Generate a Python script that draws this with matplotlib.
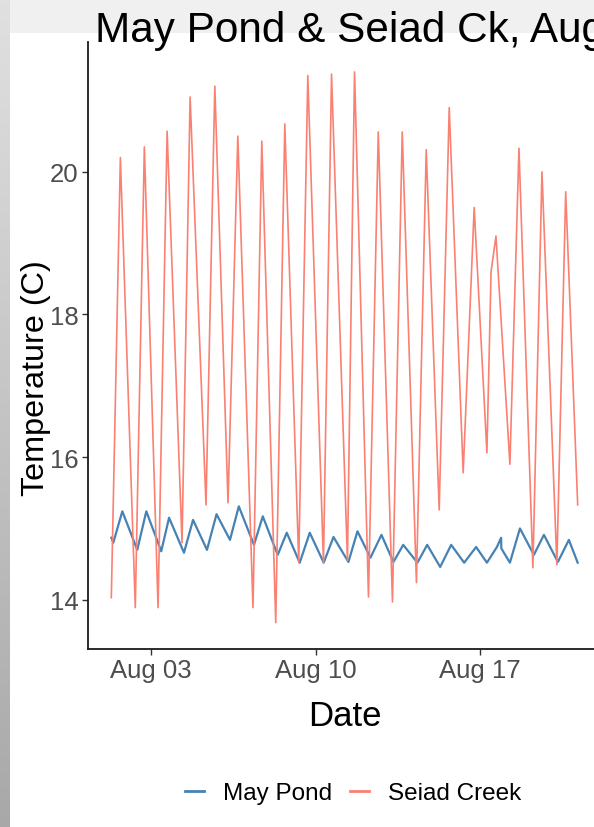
import matplotlib

matplotlib.use("Agg")
import matplotlib.dates as mdates
import matplotlib.pyplot as plt
import numpy as np
import pandas as pd

# --- values (daily troughs / peaks) --------------------------------------
seiad_time = [
    "08-01 07:15", "08-01 16:30", "08-02 07:45", "08-02 17:00",
    "08-03 07:00", "08-03 16:15", "08-04 07:30", "08-04 15:45",
    "08-05 08:00", "08-05 17:00", "08-06 06:30", "08-06 16:30",
    "08-07 08:00", "08-07 17:00", "08-08 07:15", "08-08 16:30",
    "08-09 06:45", "08-09 16:00", "08-10 08:00", "08-10 16:15",
    "08-11 08:30", "08-11 15:45", "08-12 06:00", "08-12 16:00",
    "08-13 06:30", "08-13 16:30", "08-14 07:00", "08-14 17:00",
    "08-15 06:15", "08-15 16:30", "08-16 06:45", "08-16 18:00",
    "08-17 07:00", "08-17 11:15", "08-17 16:15", "08-18 06:30",
    "08-18 15:45", "08-19 06:00", "08-19 15:15", "08-20 06:30",
    "08-20 15:30", "08-21 03:45",
]
seiad_temp = [
    14.03, 20.20, 13.89, 20.35,
    13.89, 20.57, 14.80, 21.05,
    15.33, 21.20, 15.36, 20.50,
    13.89, 20.43, 13.68, 20.67,
    14.52, 21.35, 14.52, 21.37,
    14.55, 21.40, 14.04, 20.56,
    13.97, 20.56, 14.24, 20.31,
    15.26, 20.90, 15.78, 19.50,
    16.06, 18.60, 19.10, 15.90,
    20.33, 14.45, 20.00, 14.49,
    19.72, 15.33,
]

pond_time = [
    "08-01 07:15", "08-01 09:15", "08-01 18:30", "08-02 09:45",
    "08-02 19:00", "08-03 10:15", "08-03 18:15", "08-04 09:30",
    "08-04 18:45", "08-05 09:00", "08-05 18:45", "08-06 08:30",
    "08-06 17:30", "08-07 09:00", "08-07 18:00", "08-08 09:15",
    "08-08 18:30", "08-09 07:45", "08-09 18:00", "08-10 08:15",
    "08-10 18:15", "08-11 09:30", "08-11 18:45", "08-12 08:00",
    "08-12 19:15", "08-13 07:30", "08-13 17:30", "08-14 08:00",
    "08-14 18:00", "08-15 07:15", "08-15 18:30", "08-16 07:45",
    "08-16 20:00", "08-17 07:00", "08-17 17:15", "08-17 21:30",
    "08-17 21:45", "08-18 06:30", "08-18 16:45", "08-19 07:00",
    "08-19 17:15", "08-20 07:30", "08-20 18:45", "08-21 03:45",
]
pond_temp = [
    14.87, 14.80, 15.24, 14.70,
    15.24, 14.68, 15.15, 14.66,
    15.12, 14.70, 15.20, 14.84,
    15.31, 14.77, 15.17, 14.63,
    14.94, 14.52, 14.94, 14.52,
    14.88, 14.53, 14.96, 14.59,
    14.91, 14.53, 14.77, 14.52,
    14.77, 14.46, 14.77, 14.52,
    14.74, 14.52, 14.74, 14.87,
    14.72, 14.52, 15.00, 14.63,
    14.91, 14.53, 14.84, 14.52,
]

TITLE = "May Pond & Seiad Ck, Aug"
SERIES = ["May Pond", "Seiad Creek"]
TICK_DAYS = [3, 10, 17]
Y_TICKS = [14, 16, 18, 20]

INK = "#000000"
INK_2 = "#4D4D4D"
COLORS = {"May Pond": "steelblue", "Seiad Creek": "salmon"}
SANS = ["Liberation Sans", "DejaVu Sans"]

W, H = 594, 828


def stamp(values):
    return pd.to_datetime(["2019-" + v for v in values])


fig = plt.figure(figsize=(W / 100, H / 100), dpi=100)

# slide background: grey shadow top and left, white card behind the plot
bg = fig.add_axes([0, 0, 1, 1])
bg.set_axis_off()
img = np.ones((H, W, 3))
img[:34, :, :] = 0.945
shade = np.linspace(0.88, 0.66, H)[:, None]
img[:, :10, :] = np.repeat(shade, 10, axis=1)[:, :, None]
bg.imshow(img, extent=(0, 1, 0, 1), aspect="auto", interpolation="bilinear")
bg.set_xlim(0, 1)
bg.set_ylim(0, 1)

ax = fig.add_axes([88 / W, (H - 650) / H, 513 / W, 607 / H])
ax.set_facecolor("white")

data = {
    "May Pond": (stamp(pond_time), pond_temp),
    "Seiad Creek": (stamp(seiad_time), seiad_temp),
}
for name in SERIES:
    t, y = data[name]
    ax.plot(t, y, color=COLORS[name], lw=1.6 if name == "May Pond" else 1.2,
            label=name)

ax.margins(x=0.05)
ax.set_ylim(13.31, 21.82)
ax.xaxis.set_major_locator(mdates.DayLocator(bymonthday=TICK_DAYS))
ax.xaxis.set_major_formatter(mdates.DateFormatter("%b %d"))
ax.set_yticks(Y_TICKS)

for side in ("top", "right"):
    ax.spines[side].set_visible(False)
for side in ("left", "bottom"):
    ax.spines[side].set_color("#1a1a1a")
    ax.spines[side].set_linewidth(1.3)

ax.tick_params(length=4.3, width=1.0, color="#333333", pad=2.5)
for lab in ax.get_xticklabels() + ax.get_yticklabels():
    lab.set_family(SANS)
    lab.set_fontsize(18.5)
    lab.set_color(INK_2)

ax.set_xlabel("Date", family=SANS, fontsize=25, color=INK)
ax.xaxis.set_label_coords(0.5, -0.083)
ax.set_ylabel("Temperature (C)", fontsize=23.3, color=INK, family=SANS)
ax.yaxis.set_label_coords(-0.073, 0.448)

handles, labels = ax.get_legend_handles_labels()
leg = fig.legend(handles, labels, loc="center", ncol=2, frameon=False,
                 bbox_to_anchor=(353 / W, 1 - 794 / H),
                 prop={"family": SANS, "size": 17.5},
                 handlelength=0.8, handletextpad=0.75, columnspacing=0.75)
for line in leg.get_lines():
    line.set_linewidth(2.0)

fig.text(95 / W, 1 - 42 / H, TITLE, fontsize=30.4, color=INK,
         family=SANS, va="baseline", ha="left")

fig.savefig("out.png", dpi=100)
